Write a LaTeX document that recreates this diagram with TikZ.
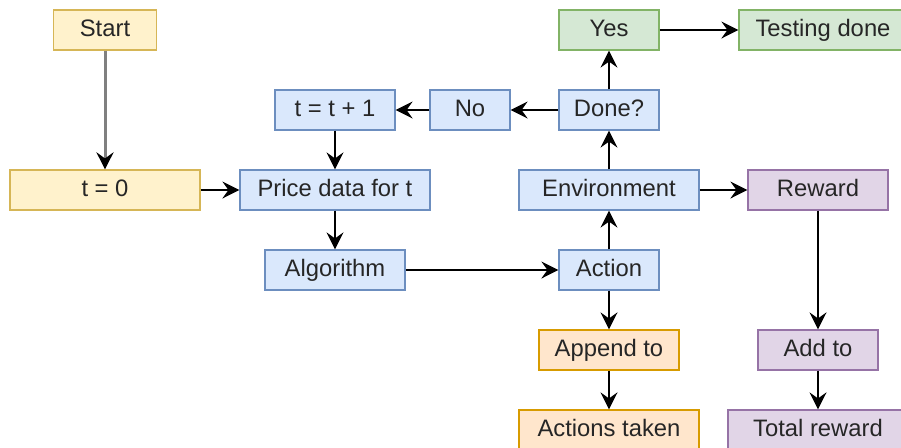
\documentclass[tikz,border=0pt]{standalone}
\usepackage{fontspec}
\setmainfont{Liberation Sans}
\usetikzlibrary{arrows.meta}
\definecolor{yfill}{HTML}{FFF2CC}
\definecolor{ydraw}{HTML}{D6B656}
\definecolor{bfill}{HTML}{DAE8FC}
\definecolor{bdraw}{HTML}{6C8EBF}
\definecolor{gfill}{HTML}{D5E8D4}
\definecolor{gdraw}{HTML}{82B366}
\definecolor{pfill}{HTML}{E1D5E7}
\definecolor{pdraw}{HTML}{9673A6}
\definecolor{ofill}{HTML}{FFE6CC}
\definecolor{odraw}{HTML}{D79B00}
\tikzset{
	box/.style={draw, line width=.6pt, inner sep=0pt, minimum height=20pt,
		text height=8.6pt, text depth=2.4pt,
		font=\fontsize{11.9}{13}\selectfont, text=black!85},
	yel/.style={box, fill=yfill, draw=ydraw},
	blu/.style={box, fill=bfill, draw=bdraw},
	grn/.style={box, fill=gfill, draw=gdraw},
	pur/.style={box, fill=pfill, draw=pdraw},
	org/.style={box, fill=ofill, draw=odraw},
	arr/.style={line width=1pt, -{Stealth[length=8.5pt,width=8.5pt,inset=3pt,color=black]}},
}

\begin{document}
\begin{tikzpicture}[x=.5pt,y=-.5pt]
	\useasboundingbox (0,0) rectangle (901,447);
	\clip (0,0) rectangle (901,447);
	% boxes
	\node[yel,minimum width=51.5pt] (start) at (105,30) {Start};
	\node[yel,minimum width=95pt] (t0) at (105,190) {t = 0};
	\node[blu,minimum width=95pt] (price) at (335,190) {Price data for t};
	\node[blu,minimum width=60pt] (tt) at (335,110) {t = t + 1};
	\node[blu,minimum width=40pt] (no) at (470,110) {No};
	\node[blu,minimum width=50pt] (done) at (609,110) {Done?};
	\node[grn,minimum width=50pt] (yes) at (609,30) {Yes};
	\node[grn,minimum width=84pt] (test) at (823,30) {Testing done};
	\node[blu,minimum width=90pt] (env) at (609,190) {Environment};
	\node[pur,minimum width=70pt] (rew) at (818,190) {Reward};
	\node[blu,minimum width=70pt] (alg) at (335,270) {Algorithm};
	\node[blu,minimum width=50pt] (act) at (609,270) {Action};
	\node[org,minimum width=70pt] (app) at (609,350) {Append to};
	\node[org,minimum width=90pt] (taken) at (609,430) {Actions taken};
	\node[pur,minimum width=60pt] (add) at (818,350) {Add to};
	\node[pur,minimum width=90pt] (tot) at (818,430) {Total reward};
	% connectors
	\draw[arr,draw=gray,line width=1.5pt] (start) -- (t0);
	\draw[arr] (t0) -- (price);
	\draw[arr] (tt) -- (price);
	\draw[arr] (price) -- (alg);
	\draw[arr] (alg) -- (act);
	\draw[arr] (act) -- (env);
	\draw[arr] (env) -- (done);
	\draw[arr] (done) -- (yes);
	\draw[arr] (yes) -- (test);
	\draw[arr] (done) -- (no);
	\draw[arr] (no) -- (tt);
	\draw[arr] (env) -- (rew);
	\draw[arr] (rew) -- (add);
	\draw[arr] (add) -- (tot);
	\draw[arr] (act) -- (app);
	\draw[arr] (app) -- (taken);
\end{tikzpicture}
\end{document}
